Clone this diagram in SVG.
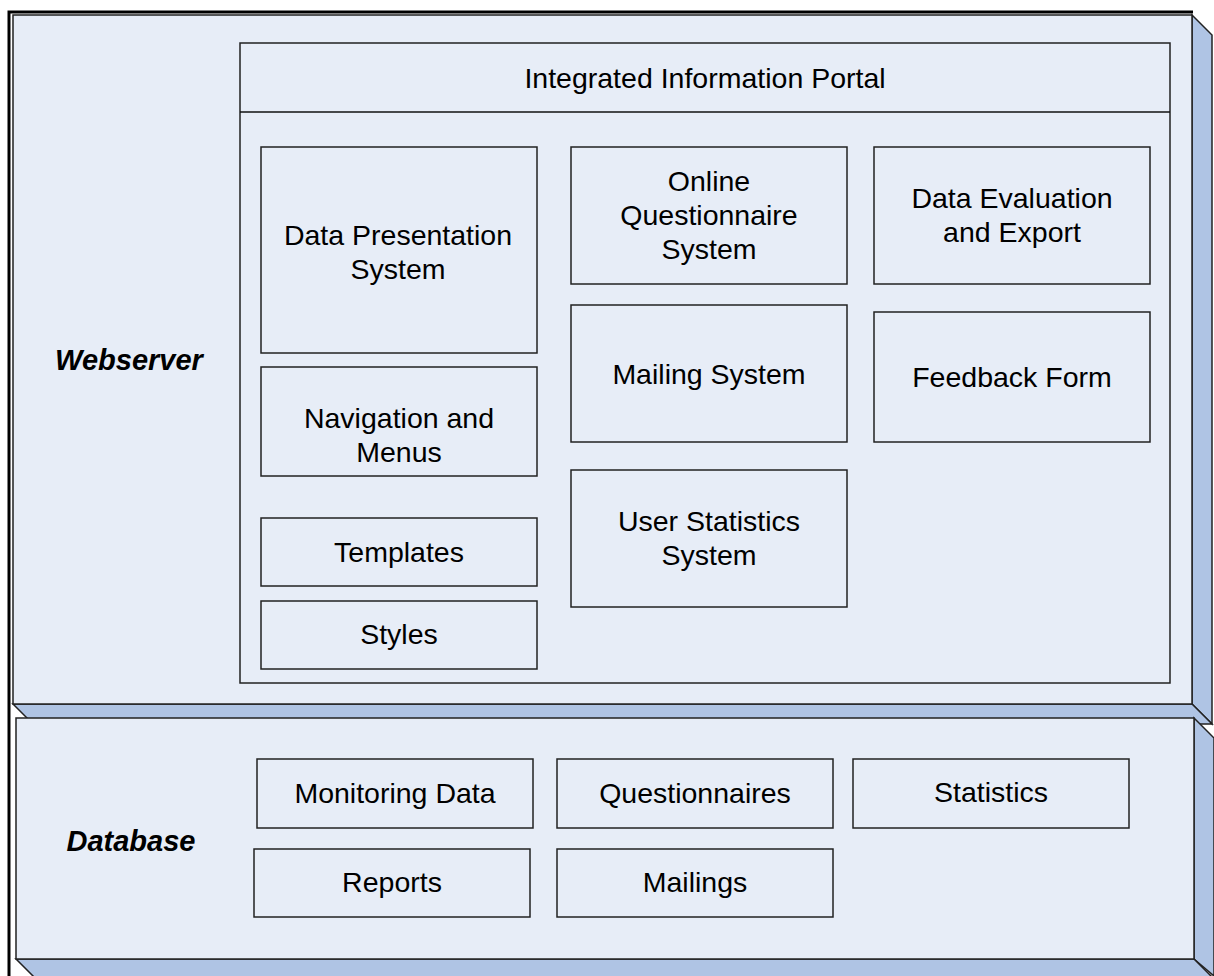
<svg xmlns="http://www.w3.org/2000/svg" width="1214" height="976" viewBox="0 0 1214 976">
<style>
.front{fill:#E7EDF7;stroke:#222;stroke-width:1.5}
.side{fill:#AFC4E4;stroke:#222;stroke-width:1.5;stroke-linejoin:miter}
.box{fill:#E7EDF7;stroke:#222;stroke-width:1.5}
.t{font-family:"Liberation Sans",Arial,sans-serif;font-size:28.5px;fill:#000;text-anchor:middle}
.lbl{font-family:"Liberation Sans",Arial,sans-serif;font-size:29px;font-weight:bold;font-style:italic;fill:#000;text-anchor:middle}
</style>
<rect width="1214" height="976" fill="#ffffff"/>
<g id="frame">
<path d="M9,976 V12 H1193" fill="none" stroke="#000" stroke-width="3"/>
</g>
<g id="webserver">
<polygon class="side" points="1192,15 1212,35 1212,724 1192,704"/>
<polygon class="side" points="13,704 1192,704 1212,724 33,724"/>
<rect class="front" x="13" y="15" width="1179" height="689"/>
<text class="lbl" x="129" y="370">Webserver</text>
</g>
<g id="database">
<polygon class="side" points="1194,718 1214,738 1214,976 1194,959"/>
<polygon class="side" points="16,959 1194,959 1214,979 36,979"/>
<rect class="front" x="16" y="718" width="1178" height="241"/>
<text class="lbl" x="131" y="851">Database</text>
</g>
<g id="portal">
<rect class="box" x="240" y="43" width="930" height="640"/>
<line x1="240" y1="112" x2="1170" y2="112" stroke="#111" stroke-width="1.5"/>
<text class="t" x="705" y="88">Integrated Information Portal</text>
</g>
<g id="data-presentation">
<rect class="box" x="261" y="147" width="276" height="206"/>
<text class="t" x="398" y="245">Data Presentation</text>
<text class="t" x="398" y="279">System</text>
</g>
<g id="navigation">
<rect class="box" x="261" y="367" width="276" height="109"/>
<text class="t" x="399" y="428">Navigation and</text>
<text class="t" x="399" y="462">Menus</text>
</g>
<g id="templates">
<rect class="box" x="261" y="518" width="276" height="68"/>
<text class="t" x="399" y="562">Templates</text>
</g>
<g id="styles">
<rect class="box" x="261" y="601" width="276" height="68"/>
<text class="t" x="399" y="644">Styles</text>
</g>
<g id="online-questionnaire">
<rect class="box" x="571" y="147" width="276" height="137"/>
<text class="t" x="709" y="191">Online</text>
<text class="t" x="709" y="225">Questionnaire</text>
<text class="t" x="709" y="259">System</text>
</g>
<g id="mailing-system">
<rect class="box" x="571" y="305" width="276" height="137"/>
<text class="t" x="709" y="384">Mailing System</text>
</g>
<g id="user-statistics">
<rect class="box" x="571" y="470" width="276" height="137"/>
<text class="t" x="709" y="531">User Statistics</text>
<text class="t" x="709" y="565">System</text>
</g>
<g id="data-evaluation">
<rect class="box" x="874" y="147" width="276" height="137"/>
<text class="t" x="1012" y="208">Data Evaluation</text>
<text class="t" x="1012" y="242">and Export</text>
</g>
<g id="feedback-form">
<rect class="box" x="874" y="312" width="276" height="130"/>
<text class="t" x="1012" y="387">Feedback Form</text>
</g>
<g id="monitoring-data">
<rect class="box" x="257" y="759" width="276" height="69"/>
<text class="t" x="395" y="803">Monitoring Data</text>
</g>
<g id="questionnaires">
<rect class="box" x="557" y="759" width="276" height="69"/>
<text class="t" x="695" y="803">Questionnaires</text>
</g>
<g id="statistics">
<rect class="box" x="853" y="759" width="276" height="69"/>
<text class="t" x="991" y="802">Statistics</text>
</g>
<g id="reports">
<rect class="box" x="254" y="849" width="276" height="68"/>
<text class="t" x="392" y="892">Reports</text>
</g>
<g id="mailings">
<rect class="box" x="557" y="849" width="276" height="68"/>
<text class="t" x="695" y="892">Mailings</text>
</g>
<g id="connectors"></g>
</svg>
